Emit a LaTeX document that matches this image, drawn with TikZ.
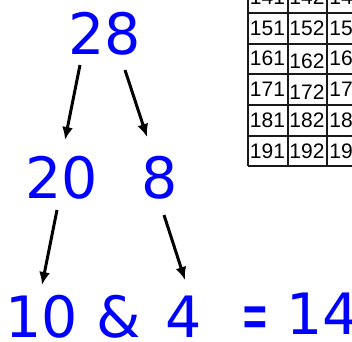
\documentclass[tikz,border=0pt]{standalone}
\usepackage{fontspec}
\usepackage{graphicx}
\setmainfont{DejaVu Sans}
\newfontfamily\tabfont{Liberation Sans}
\usetikzlibrary{arrows.meta}
\definecolor{numblue}{RGB}{0,0,255}
\tikzset{
  bignum/.style={text=numblue, font=\fontsize{57}{57}\selectfont, inner sep=0pt, anchor=center},
  cellnum/.style={font=\tabfont\fontsize{21}{21}\selectfont, inner sep=0pt, anchor=center},
  arr/.style={line width=3pt, -{Latex[length=13pt,width=11pt]}, black},
  gridline/.style={line width=2pt, black!90}
}
\begin{document}
\begin{tikzpicture}[x=1pt,y=-1pt]
\useasboundingbox (0,0) rectangle (352,341);
\clip (0,0) rectangle (352,341);
% table
\foreach \yy in {13,43.5,74,105,135.5,166}
  \draw[gridline] (248,\yy) -- (370,\yy);
\foreach \xx in {248,287.5,327}
  \draw[gridline] (\xx,-20) -- (\xx,166);
\foreach \r/\yy in {14/-2.5,15/28,16/58.5,17/89.5,18/120,19/151}{
  \node[cellnum] (c\r a) at (267.5,\yy) {\r1};
  \node[cellnum] (c\r c) at (347,\yy) {\r3};
}
\node[cellnum] (c14b) at (307,-2.5) {142};
\node[cellnum] (c15b) at (307,28) {152};
\node[cellnum] (c16b) at (307,61) {162};
\node[cellnum] (c17b) at (307,92) {172};
\node[cellnum] (c18b) at (307,120) {182};
\node[cellnum] (c19b) at (307,151) {192};
% numbers
\node[bignum] (n28) at (105,34) {28};
\node[bignum] (n20) at (62,178) {20};
\node[bignum] (n8) at (160,178) {8};
\node[bignum] (n10) at (42,317) {10};
\node[bignum] (amp) at (119,317) {\&};
\node[bignum] (n4) at (184,317) {4};
\node[bignum] (eq) at (255,324) {\scalebox{0.58}[1.3]{=}};
\node[bignum] (n14) at (323,314) {14};
% arrows
\draw[arr] ([xshift=-25pt,yshift=-31pt]n28.center) -- ([xshift=3pt,yshift=38pt]n20.center);
\draw[arr] ([xshift=20pt,yshift=-36pt]n28.center) -- ([xshift=-13pt,yshift=41pt]n8.center);
\draw[arr] ([xshift=-5pt,yshift=-32pt]n20.center) -- ([xshift=0pt,yshift=32pt]n10.center);
\draw[arr] ([xshift=4pt,yshift=-37pt]n8.center) -- ([xshift=1pt,yshift=37pt]n4.center);
\end{tikzpicture}
\end{document}
